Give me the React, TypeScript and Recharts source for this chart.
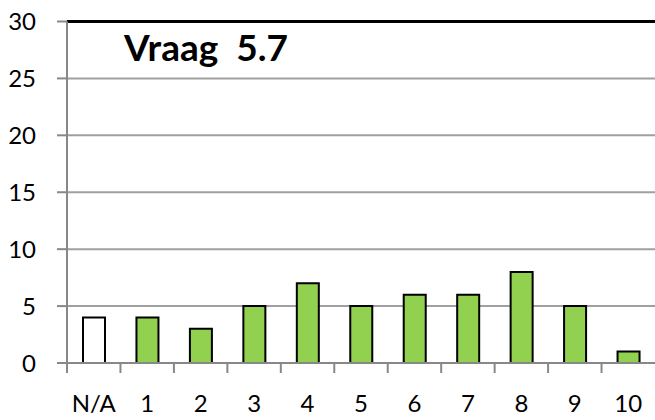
import React from "react";
import { BarChart, Bar, XAxis, YAxis, CartesianGrid, ReferenceLine, Cell } from "recharts";

const categories = ["N/A", "1", "2", "3", "4", "5", "6", "7", "8", "9", "10"];
const counts = [4, 4, 3, 5, 7, 5, 6, 6, 8, 5, 1];
const yTicks = [0, 5, 10, 15, 20, 25, 30];

const data = categories.map((label, i) => ({ label, count: counts[i] }));

const W = 655;
const H = 420;
const Y_AXIS_W = 67;
const BAND = (W - Y_AXIS_W) / categories.length;
const FONT = "Lato, 'Liberation Sans', sans-serif";

function XTick(props: any) {
  const { x, y, payload } = props;
  const left = x - BAND / 2;
  return (
    <g>
      <line x1={left} y1={y - 9} x2={left} y2={y + 2} stroke="#888" strokeWidth={2} />
      <text x={x} y={y + 41} textAnchor="middle" fontSize={24} fontFamily={FONT} fill="#000">
        {payload.value}
      </text>
    </g>
  );
}

export default function App() {
  return (
    <div style={{ position: "fixed", left: 0, top: 0, width: W, height: H, background: "#fff" }}>
      <BarChart width={W} height={H} data={data} margin={{ top: 21.5, right: 0, bottom: 0, left: 0 }}>
        <CartesianGrid vertical={false} stroke="#a0a0a0" strokeWidth={2} />
        <XAxis
          dataKey="label"
          axisLine={{ stroke: "#888", strokeWidth: 2 }}
          tickLine={false}
          tick={<XTick />}
          interval={0}
          height={57}
        />
        <YAxis
          domain={[0, 30]}
          ticks={yTicks}
          width={Y_AXIS_W}
          tickSize={10}
          tickMargin={21}
          axisLine={{ stroke: "#888", strokeWidth: 2 }}
          tickLine={{ stroke: "#888", strokeWidth: 2 }}
          tick={{ fill: "#000", fontSize: 24, fontFamily: FONT }}
        />
        <ReferenceLine y={30} stroke="#000" strokeWidth={3} />
        <Bar dataKey="count" barSize={22} stroke="#000" strokeWidth={2} isAnimationActive={false}>
          {data.map((d, i) => (
            <Cell key={d.label} fill={i === 0 ? "#fff" : "#92D050"} />
          ))}
        </Bar>
      </BarChart>
      <div
        style={{
          position: "absolute",
          left: 124,
          top: 28,
          fontFamily: FONT,
          fontWeight: 700,
          fontSize: 37,
          lineHeight: 1,
          color: "#000",
          whiteSpace: "pre",
        }}
      >
        Vraag  5.7
      </div>
    </div>
  );
}
